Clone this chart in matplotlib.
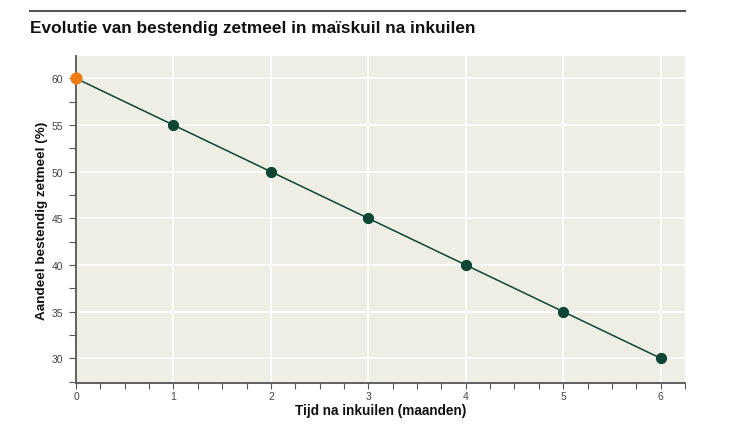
import matplotlib
matplotlib.use("Agg")
import matplotlib.pyplot as plt
from matplotlib.ticker import MultipleLocator

# data
months = [0, 1, 2, 3, 4, 5, 6]
starch = [60, 55, 50, 45, 40, 35, 30]

title = "Evolutie van bestendig zetmeel in maïskuil na inkuilen"
xlabel = "Tijd na inkuilen (maanden)"
ylabel = "Aandeel bestendig zetmeel (%)"

plt.rcParams['font.family'] = ['Liberation Sans', 'DejaVu Sans']

fig = plt.figure(figsize=(7.5, 4.35), dpi=100)
ax = fig.add_axes([76/750, 1 - 384/435, (685 - 76)/750, (384 - 57)/435])

bg = '#efeee6'
green = '#0d4634'
orange = '#f07c14'

ax.set_facecolor(bg)
ax.plot(months, starch, color=green, lw=1.1, zorder=3, clip_on=False)
ax.scatter(months[1:], starch[1:], s=50, color=green, zorder=4, clip_on=False)
ax.scatter(months[:1], starch[:1], s=60, color=orange, zorder=5, clip_on=False)

ax.set_xlim(0, 6.25)
ax.set_ylim(27.35, 62.4)
ax.xaxis.set_major_locator(MultipleLocator(1))
ax.xaxis.set_minor_locator(MultipleLocator(0.25))
ax.yaxis.set_major_locator(MultipleLocator(5))
ax.yaxis.set_minor_locator(MultipleLocator(2.5))

ax.grid(True, which='major', color='white', lw=1.1, zorder=1)
ax.set_axisbelow(True)

for s in ['top', 'right']:
    ax.spines[s].set_visible(False)
for s in ['left', 'bottom']:
    ax.spines[s].set_color('#555555')
    ax.spines[s].set_linewidth(1.3)

ax.tick_params(which='both', direction='out', colors='#555555', labelcolor='#444444',
               labelsize=7.5, width=0.8)
ax.tick_params(axis='x', which='major', length=4, pad=2)
ax.tick_params(axis='x', which='minor', length=4)
ax.tick_params(axis='y', which='both', length=5, pad=4)

ax.set_xlabel(xlabel, fontsize=9.8, fontweight='bold', color='#111111', labelpad=1)
ax.set_ylabel(ylabel, fontsize=9.7, fontweight='bold', color='#111111', labelpad=3)

fig.text(30/750, 1 - 28/435, title, fontsize=12.4, fontweight='bold', color='#111111',
         va='center', ha='left')
fig.add_artist(plt.Line2D([30/750, 685/750], [1 - 12/435, 1 - 12/435],
                          color='#555555', lw=1.5))

fig.savefig('out.png', dpi=100)
